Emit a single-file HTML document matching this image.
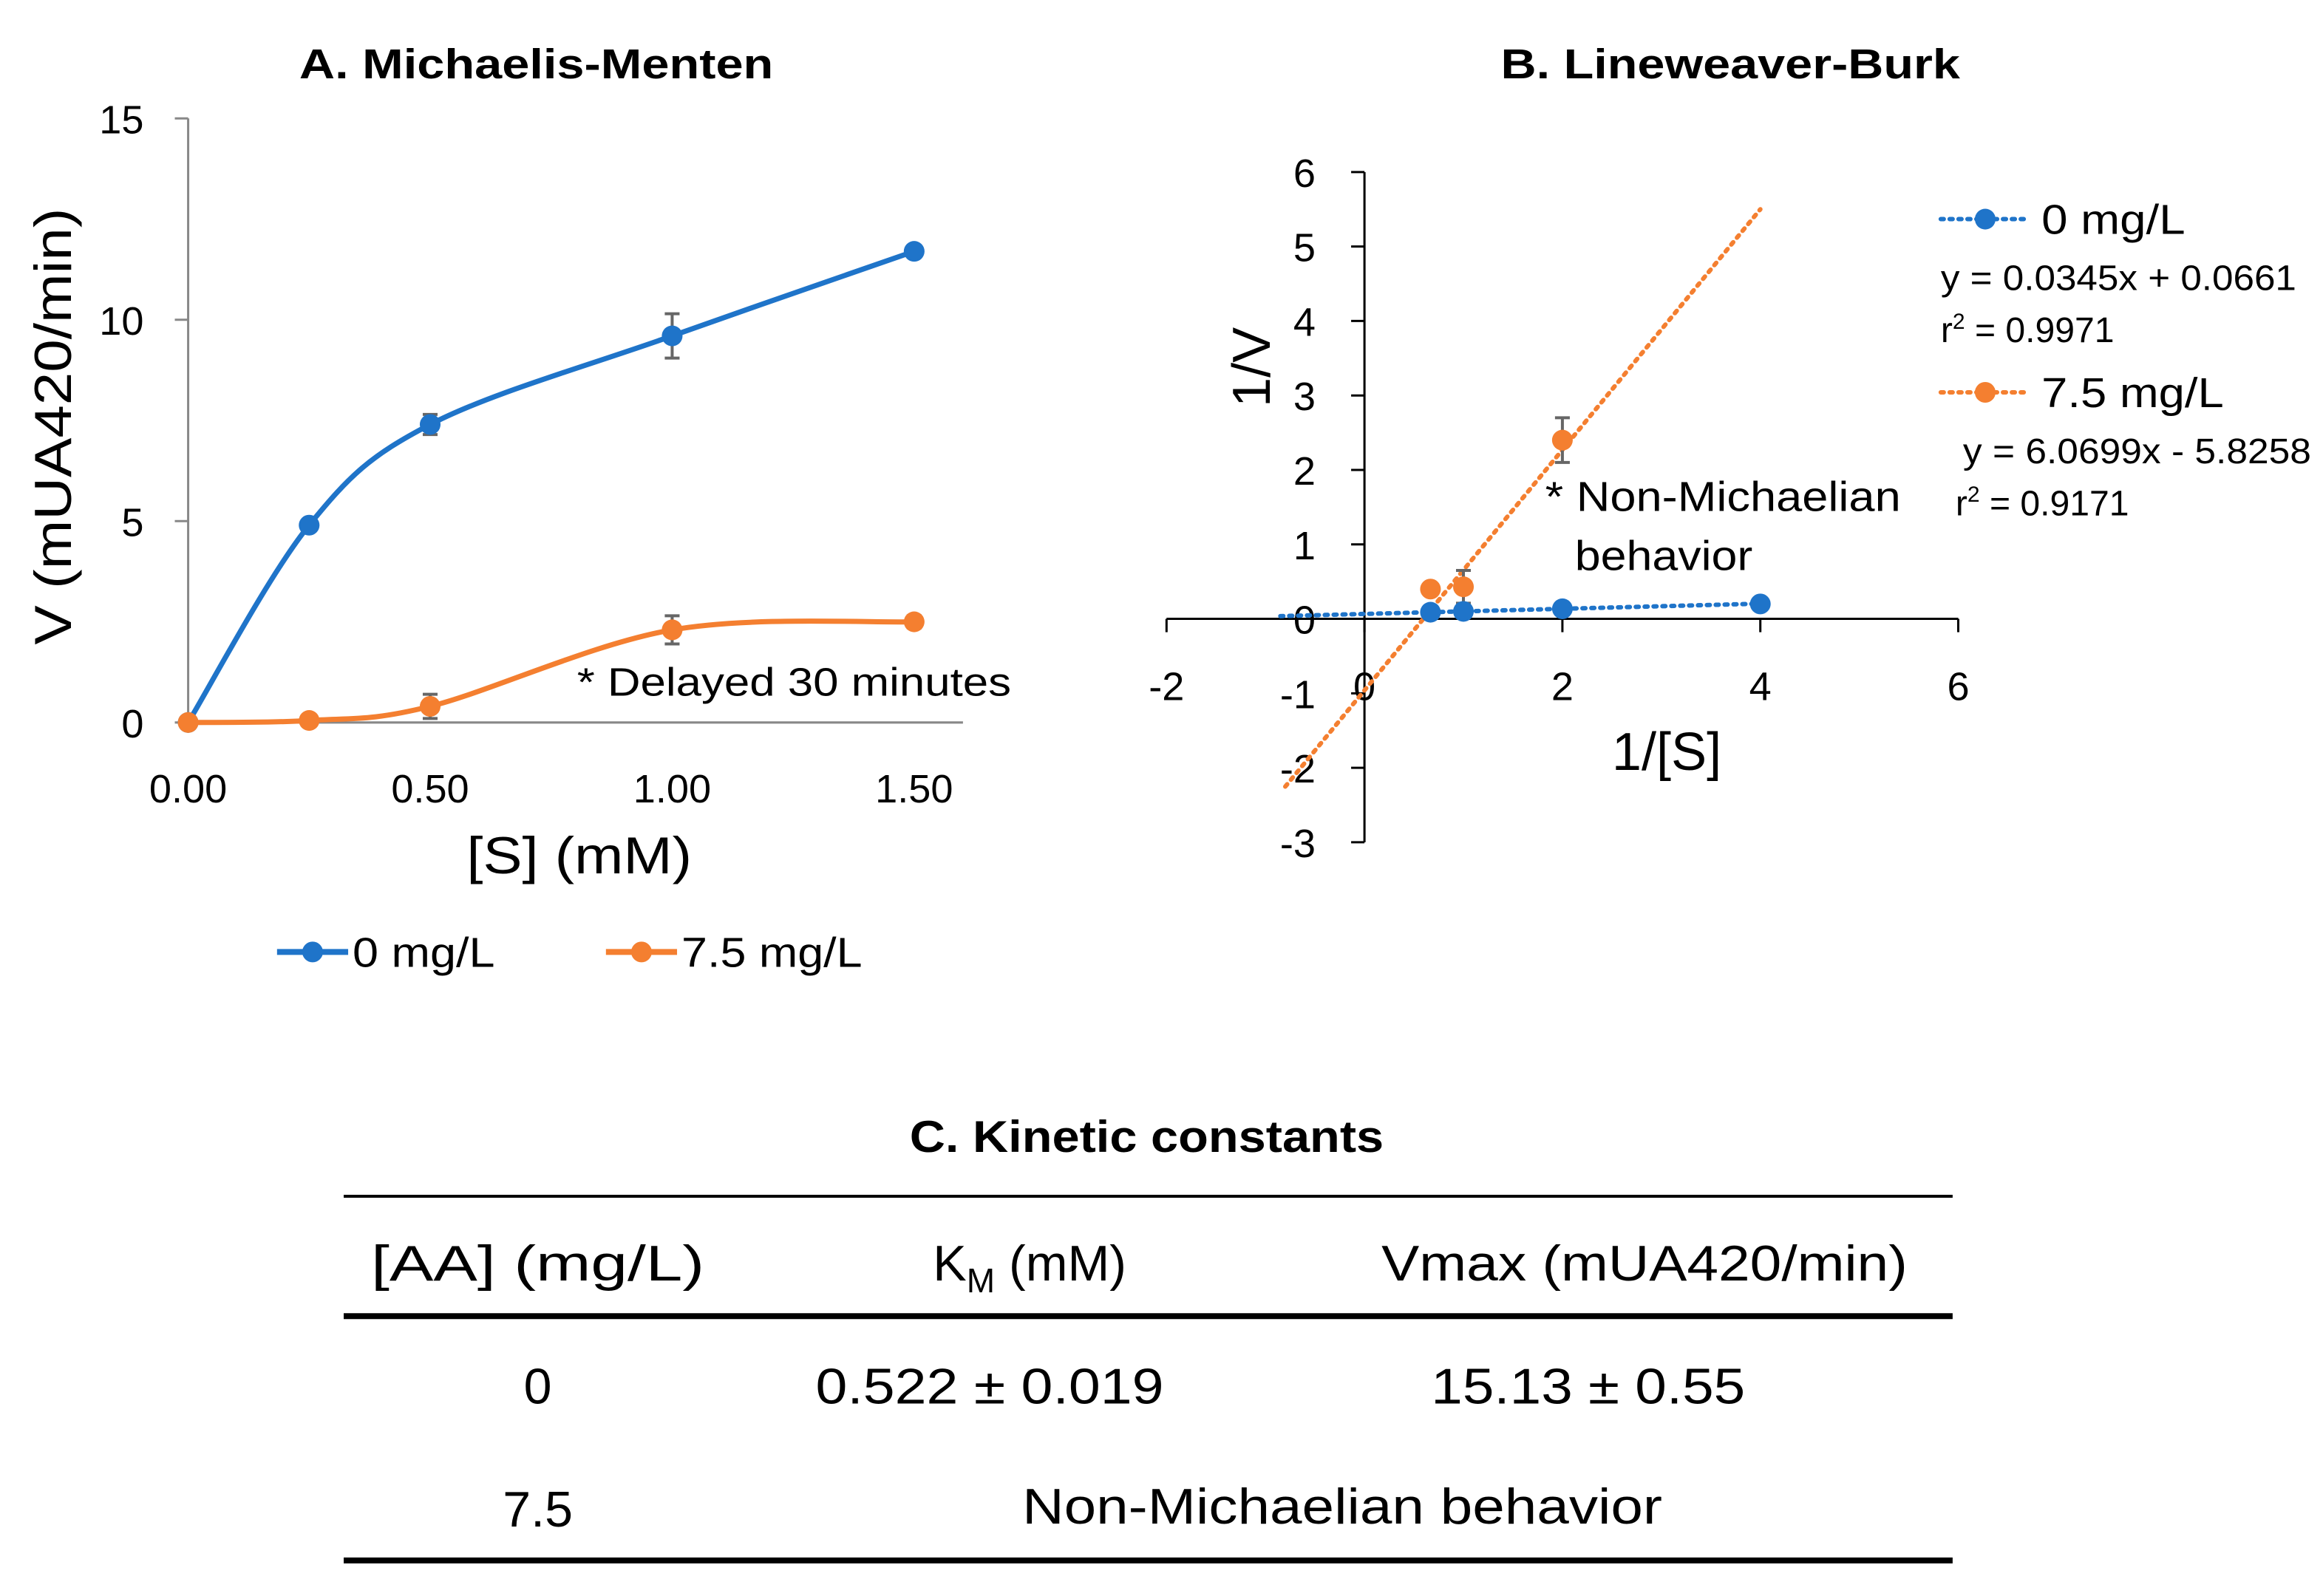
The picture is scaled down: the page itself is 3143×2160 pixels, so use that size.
<!DOCTYPE html>
<html><head><meta charset="utf-8"><style>
html,body{margin:0;padding:0;background:#fff}
svg{display:block;font-family:"Liberation Sans",sans-serif}
</style></head><body>
<svg id="c" width="3143" height="2160" viewBox="0 0 1568 1078" preserveAspectRatio="none">
<text x="362" y="53" font-size="28" font-weight="bold" text-anchor="middle" textLength="320" lengthAdjust="spacingAndGlyphs">A. Michaelis-Menten</text>
<text x="1168" y="53" font-size="28" font-weight="bold" text-anchor="middle" textLength="310" lengthAdjust="spacingAndGlyphs">B. Lineweaver-Burk</text>
<g id="ga"></g>
<g id="gb"></g>
<text x="536" y="470" font-size="27" text-anchor="middle" textLength="293" lengthAdjust="spacingAndGlyphs">* Delayed 30 minutes</text>
<text x="391" y="590" font-size="35" text-anchor="middle" textLength="152" lengthAdjust="spacingAndGlyphs">[S] (mM)</text>
<text transform="translate(48,288) rotate(-90)" font-size="35" text-anchor="middle" textLength="295" lengthAdjust="spacingAndGlyphs">V (mUA420/min)</text>
<g>
<line x1="187" y1="643" x2="235" y2="643" stroke="#1f74c9" stroke-width="4"/><circle cx="211" cy="643" r="7" fill="#1f74c9"/>
<text x="238" y="653" font-size="28" textLength="96" lengthAdjust="spacingAndGlyphs">0 mg/L</text>
<line x1="409" y1="643" x2="457" y2="643" stroke="#f47f30" stroke-width="4"/><circle cx="433" cy="643" r="7" fill="#f47f30"/>
<text x="460" y="653" font-size="28" textLength="122" lengthAdjust="spacingAndGlyphs">7.5 mg/L</text>
</g>
<text x="1043" y="345" font-size="28" textLength="240" lengthAdjust="spacingAndGlyphs">* Non-Michaelian</text>
<text x="1063" y="385" font-size="28" textLength="120" lengthAdjust="spacingAndGlyphs">behavior</text>
<text x="1125" y="520" font-size="36" text-anchor="middle">1/[S]</text>
<text transform="translate(857,248) rotate(-90)" font-size="36" text-anchor="middle">1/V</text>
<g>
<line x1="1310" y1="148" x2="1370" y2="148" stroke="#1f74c9" stroke-width="3" stroke-dasharray="2,4" stroke-linecap="round"/><circle cx="1340" cy="148" r="7" fill="#1f74c9"/>
<text x="1378" y="158" font-size="28" textLength="97" lengthAdjust="spacingAndGlyphs">0 mg/L</text>
<text x="1310" y="196" font-size="24" textLength="240" lengthAdjust="spacingAndGlyphs">y = 0.0345x + 0.0661</text>
<text x="1310" y="231" font-size="24">r<tspan font-size="15" dy="-9">2</tspan><tspan dy="9"> = 0.9971</tspan></text>
<line x1="1310" y1="265" x2="1370" y2="265" stroke="#f47f30" stroke-width="3" stroke-dasharray="2,4" stroke-linecap="round"/><circle cx="1340" cy="265" r="7" fill="#f47f30"/>
<text x="1378" y="275" font-size="28" textLength="123" lengthAdjust="spacingAndGlyphs">7.5 mg/L</text>
<text x="1325" y="313" font-size="24" textLength="235" lengthAdjust="spacingAndGlyphs">y = 6.0699x  - 5.8258</text>
<text x="1320" y="348" font-size="24">r<tspan font-size="15" dy="-9">2</tspan><tspan dy="9"> = 0.9171</tspan></text>
</g>
<g>
<text x="774" y="778" font-size="30" font-weight="bold" text-anchor="middle" textLength="320" lengthAdjust="spacingAndGlyphs">C. Kinetic constants</text>
<line x1="232" y1="808" x2="1318" y2="808" stroke="#000" stroke-width="2"/>
<line x1="232" y1="889" x2="1318" y2="889" stroke="#000" stroke-width="4"/>
<line x1="232" y1="1054" x2="1318" y2="1054" stroke="#000" stroke-width="4"/>
<text x="363" y="865" font-size="34" text-anchor="middle" textLength="225" lengthAdjust="spacingAndGlyphs">[AA] (mg/L)</text>
<text x="695" y="865" font-size="34" text-anchor="middle">K<tspan font-size="23" dy="8">M</tspan><tspan dy="-8"> (mM)</tspan></text>
<text x="1110" y="865" font-size="34" text-anchor="middle" textLength="355" lengthAdjust="spacingAndGlyphs">Vmax (mUA420/min)</text>
<text x="363" y="948" font-size="34" text-anchor="middle">0</text>
<text x="668" y="948" font-size="34" text-anchor="middle" textLength="235" lengthAdjust="spacingAndGlyphs">0.522 ± 0.019</text>
<text x="1072" y="948" font-size="34" text-anchor="middle" textLength="212" lengthAdjust="spacingAndGlyphs">15.13 ± 0.55</text>
<text x="363" y="1031" font-size="34" text-anchor="middle">7.5</text>
<text x="906" y="1029" font-size="34" text-anchor="middle" textLength="432" lengthAdjust="spacingAndGlyphs">Non-Michaelian behavior</text>
</g>
</svg>
<script>
// Panel A data
const aX = [0, 0.25, 0.5, 1.0, 1.5];
const aBlue = [0, 4.9, 7.4, 9.6, 11.7];
const aBlueErr = [0, 0.1, 0.25, 0.55, 0.1];
const aOrange = [0, 0.05, 0.4, 2.3, 2.5];
const aOrangeErr = [0, 0.05, 0.3, 0.35, 0.15];
const aXTicks = ["0.00", "0.50", "1.00", "1.50"];
const aXTickVals = [0, 0.5, 1.0, 1.5];
const aYTicks = [0, 5, 10, 15];
// Panel B data
const bXBlue = [0.667, 1, 2, 4];
const bYBlue = [0.089, 0.1, 0.135, 0.2];
const bXOrange = [0.667, 1, 2];
const bYOrange = [0.4, 0.43, 2.4];
const bErrOrange = [0.05, 0.22, 0.3];
const bTrendBlue = [0.0345, 0.0661];
const bTrendOrange = [1.615, -0.96];
const bXTicks = [-2, 0, 2, 4, 6];
const bYTicks = [-3, -2, -1, 0, 1, 2, 3, 4, 5, 6];

const NS = "http://www.w3.org/2000/svg";
function mk(parent, tag, attrs){const e=document.createElementNS(NS,tag);for(const k in attrs)e.setAttribute(k,attrs[k]);parent.appendChild(e);return e;}
const ax = v => 127 + v*326.7;
const ay = v => 488 - v*27.2;
const bx = v => 921 + v*66.8;
const by = v => 418 - v*50.3;
const BLUE="#1f74c9", OR="#f47f30";

const ga=document.getElementById('ga');
let l=mk(ga,'line',{x1:127,y1:80,x2:127,y2:488,stroke:'#888','stroke-width':1.5});


l=mk(ga,'line',{x1:127,y1:488,x2:650,y2:488,stroke:'#888','stroke-width':1.5});


aYTicks.forEach(v=>{
  mk(ga,'line',{x1:118,y1:ay(v),x2:127,y2:ay(v),stroke:'#888','stroke-width':1.5});
  const t=mk(ga,'text',{x:97,y:ay(v)+10,'font-size':27,'text-anchor':'end'});t.textContent=v;
  
  
});
aXTicks.forEach((s,i)=>{
  const t=mk(ga,'text',{x:ax(aXTickVals[i]),y:542,'font-size':27,'text-anchor':'middle'});t.textContent=s;
  
  
});
function smooth(xs,ys){
  const p=xs.map((x,i)=>[ax(x),ay(ys[i])]);
  let d=`M${p[0][0]},${p[0][1]}`;
  for(let i=0;i<p.length-1;i++){
    const p0=p[Math.max(0,i-1)],p1=p[i],p2=p[i+1],p3=p[Math.min(p.length-1,i+2)];
    const c1=[p1[0]+(p2[0]-p0[0])/6,p1[1]+(p2[1]-p0[1])/6];
    const c2=[p2[0]-(p3[0]-p1[0])/6,p2[1]-(p3[1]-p1[1])/6];
    d+=` C${c1[0]},${c1[1]} ${c2[0]},${c2[1]} ${p2[0]},${p2[1]}`;
  }
  return d;
}
[[aBlue,aBlueErr,BLUE,'blue'],[aOrange,aOrangeErr,OR,'orange']].forEach(([ys,es,col,nm])=>{
  const p=mk(ga,'path',{d:smooth(aX,ys),fill:'none',stroke:col,'stroke-width':3.5});
  
  
  aX.forEach((x,i)=>{
    if(es[i]>0.12){
      mk(ga,'path',{d:`M${ax(x)},${ay(ys[i]-es[i])}V${ay(ys[i]+es[i])}M${ax(x)-5},${ay(ys[i]-es[i])}h10M${ax(x)-5},${ay(ys[i]+es[i])}h10`,stroke:'#666','stroke-width':2,fill:'none'});
    }
    const c=mk(ga,'circle',{cx:ax(x),cy:ay(ys[i]),r:7,fill:col});
    
    
  });
});

const gb=document.getElementById('gb');
l=mk(gb,'line',{x1:921,y1:by(6),x2:921,y2:by(-3),stroke:'#000','stroke-width':1.5});


l=mk(gb,'line',{x1:bx(-2),y1:418,x2:bx(6),y2:418,stroke:'#000','stroke-width':1.5});


bYTicks.forEach(v=>{
  mk(gb,'line',{x1:912,y1:by(v),x2:921,y2:by(v),stroke:'#000','stroke-width':1.5});
  const t=mk(gb,'text',{x:888,y:by(v)+10,'font-size':27,'text-anchor':'end'});t.textContent=v;
  
  
});
bXTicks.forEach(v=>{
  mk(gb,'line',{x1:bx(v),y1:418,x2:bx(v),y2:427,stroke:'#000','stroke-width':1.5});
  const t=mk(gb,'text',{x:bx(v),y:473,'font-size':27,'text-anchor':'middle'});t.textContent=v;
  
  
});
l=mk(gb,'line',{x1:bx(-0.85),y1:by(bTrendBlue[0]*-0.85+bTrendBlue[1]),x2:bx(4),y2:by(bTrendBlue[0]*4+bTrendBlue[1]),stroke:BLUE,'stroke-width':3,'stroke-dasharray':'2,4','stroke-linecap':'round'});


l=mk(gb,'line',{x1:bx(-0.8),y1:by(bTrendOrange[0]*-0.8+bTrendOrange[1]),x2:bx(4),y2:by(bTrendOrange[0]*4+bTrendOrange[1]),stroke:OR,'stroke-width':3,'stroke-dasharray':'2,4','stroke-linecap':'round'});


bXOrange.forEach((x,i)=>{
  const e=bErrOrange[i];
  mk(gb,'path',{d:`M${bx(x)},${by(bYOrange[i]-e)}V${by(bYOrange[i]+e)}M${bx(x)-5},${by(bYOrange[i]-e)}h10M${bx(x)-5},${by(bYOrange[i]+e)}h10`,stroke:'#666','stroke-width':2,fill:'none'});
});
bXBlue.forEach((x,i)=>{
  const c=mk(gb,'circle',{cx:bx(x),cy:by(bYBlue[i]),r:7,fill:BLUE});
  
  
});
bXOrange.forEach((x,i)=>{
  const c=mk(gb,'circle',{cx:bx(x),cy:by(bYOrange[i]),r:7,fill:OR});
  
  
});
</script>
</body></html>
